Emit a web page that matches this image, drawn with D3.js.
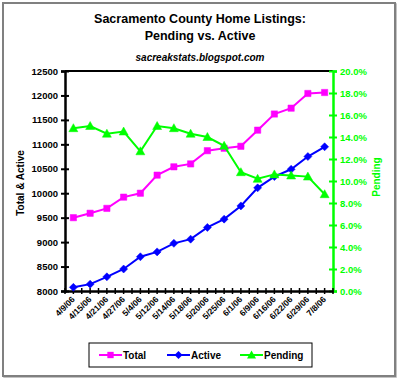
<!DOCTYPE html>
<html><head><meta charset="utf-8">
<script src="https://cdn.jsdelivr.net/npm/d3@7"></script>
<style>
body{margin:0;background:#fff;}
svg text{font-family:"Liberation Sans",Arial,sans-serif;font-weight:bold;}
</style></head>
<body><svg id="c" width="400" height="381"></svg>
<script>
const dates = ["4/9/06","4/15/06","4/21/06","4/27/06","5/4/06","5/12/06","5/14/06","5/18/06","5/20/06","5/25/06","6/1/06","6/9/06","6/16/06","6/22/06","6/29/06","7/8/06"];
const total = [9500,9590,9690,9920,10000,10370,10540,10600,10870,10920,10960,11290,11620,11740,12040,12060];
const active = [8075,8140,8290,8450,8700,8800,8975,9060,9300,9470,9740,10110,10340,10490,10750,10950];
const pending = [0.148,0.150,0.143,0.145,0.127,0.150,0.148,0.143,0.140,0.132,0.108,0.102,0.106,0.105,0.104,0.088];
const leftTicks = [8000,8500,9000,9500,10000,10500,11000,11500,12000,12500];
const rightTicks = [0,0.02,0.04,0.06,0.08,0.10,0.12,0.14,0.16,0.18,0.20];

const svg = d3.select("#c");
const X0=65, X1=333, Y0=71, Y1=291;
const x = d3.scaleBand().domain(dates).range([X0,X1]).padding(0);
const cx = d => x(d) + x.bandwidth()/2;
const yL = d3.scaleLinear().domain([8000,12500]).range([Y1,Y0]);
const yR = d3.scaleLinear().domain([0,0.2]).range([Y1,Y0]);

// outer frame with slight shadow
svg.append("rect").attr("x",4).attr("y",4).attr("width",392).attr("height",373)
  .attr("fill","none").attr("stroke","#b0b0b0").attr("stroke-width",1.5);
svg.append("rect").attr("x",3).attr("y",3).attr("width",392).attr("height",373)
  .attr("fill","#fff").attr("stroke","#808080").attr("stroke-width",2);

// titles
svg.append("text").attr("x",200).attr("y",23).attr("text-anchor","middle").attr("font-size",12.5).text("Sacramento County Home Listings:");
svg.append("text").attr("x",200).attr("y",40).attr("text-anchor","middle").attr("font-size",12.5).text("Pending vs. Active");
svg.append("text").attr("x",200).attr("y",61).attr("text-anchor","middle").attr("font-size",10).attr("font-style","italic").text("sacreakstats.blogspot.com");

// plot top border
svg.append("line").attr("x1",X0).attr("x2",X1).attr("y1",Y0).attr("y2",Y0).attr("stroke","#000").attr("stroke-width",2);

// left axis
const gl = svg.append("g").attr("transform",`translate(${X0},0)`)
  .call(d3.axisLeft(yL).tickValues(leftTicks).tickFormat(d3.format("d")).tickSize(4).tickPadding(4));
gl.select(".domain").attr("stroke","#000").attr("stroke-width",2.5);
gl.selectAll(".tick line").attr("x1",-4).attr("x2",4).attr("stroke","#000").attr("stroke-width",2);
gl.selectAll(".tick text").attr("font-size",9.5).attr("fill","#000").attr("x",-7);

// right axis
const gr = svg.append("g").attr("transform",`translate(${X1},0)`)
  .call(d3.axisRight(yR).tickValues(rightTicks).tickFormat(d3.format(".1%")).tickSize(4));
gr.select(".domain").attr("stroke","#00ff00").attr("stroke-width",2.5);
gr.selectAll(".tick line").attr("x1",-4).attr("x2",4).attr("stroke","#00ff00").attr("stroke-width",2);
gr.selectAll(".tick text").attr("font-size",9.5).attr("fill","#00ff00").attr("x",7);

// bottom axis
const gb = svg.append("g").attr("transform",`translate(0,${Y1})`)
  .call(d3.axisBottom(x).tickSize(0).tickFormat(d=>d));
gb.select(".domain").attr("stroke","#000").attr("stroke-width",2.5);
gb.selectAll(".tick text").attr("font-size",8.5).attr("fill","#000")
  .attr("text-anchor","end").attr("dy",0).attr("y",0)
  .attr("transform","translate(2,9) rotate(-45)");
// cross tick marks at half-category spacing
const half = x.bandwidth()/2;
const tickXs = d3.range(0, dates.length*2+1).map(i => X0 + i*half);
svg.append("g").selectAll("line").data(tickXs).join("line")
  .attr("x1",d=>d).attr("x2",d=>d).attr("y1",Y1-3).attr("y2",Y1+3)
  .attr("stroke","#000").attr("stroke-width",1.5);

// axis titles
svg.append("text").attr("transform","translate(24,183) rotate(-90)").attr("text-anchor","middle").attr("font-size",10).text("Total & Active");
svg.append("text").attr("transform","translate(380,177) rotate(-90)").attr("text-anchor","middle").attr("font-size",10).attr("fill","#00ff00").text("Pending");

// series
function series(vals, y, color, shape){
  const pts = vals.map((v,i)=>[cx(dates[i]), y(v)]);
  svg.append("path").attr("d", d3.line()(pts)).attr("fill","none").attr("stroke",color).attr("stroke-width",2);
  svg.append("g").selectAll("path").data(pts).join("path")
    .attr("transform",d=>`translate(${d[0]},${d[1]})`)
    .attr("d", shape).attr("fill",color).attr("stroke",color).attr("stroke-width",0.5);
}
const sq = d3.symbol().type(d3.symbolSquare).size(40)();
const dia = "M0,-4L4,0L0,4L-4,0Z";
const tri = "M0,-4.5L4.5,3.5L-4.5,3.5Z";
series(total, yL, "#ff00ff", sq);
series(active, yL, "#0000ff", dia);
series(pending, yR, "#00ff00", tri);

// legend
const lg = svg.append("g");
lg.append("rect").attr("x",89).attr("y",343).attr("width",223).attr("height",24).attr("fill","#fff").attr("stroke","#000").attr("stroke-width",1);
const legItems = [["Total","#ff00ff",sq,99],["Active","#0000ff",dia,167],["Pending","#00ff00",tri,240]];
legItems.forEach(([name,color,shape,lx])=>{
  lg.append("line").attr("x1",lx).attr("x2",lx+23).attr("y1",355).attr("y2",355).attr("stroke",color).attr("stroke-width",2);
  lg.append("path").attr("transform",`translate(${lx+11.5},355)`).attr("d",shape).attr("fill",color);
  lg.append("text").attr("x",lx+24).attr("y",359).attr("font-size",10).text(name);
});
</script></body></html>
